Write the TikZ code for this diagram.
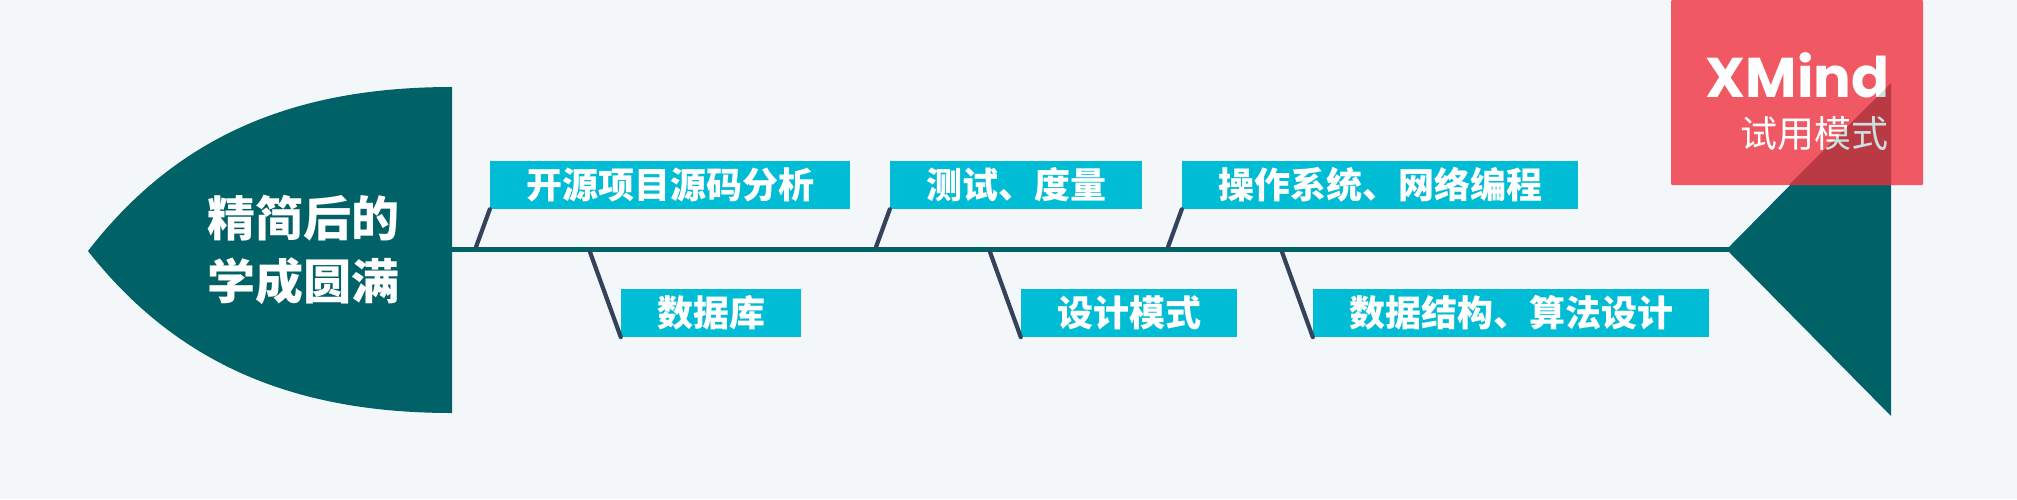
\documentclass[tikz,border=0pt]{standalone}
\usepackage{fontspec}
\setmainfont{Noto Sans CJK SC}
\newfontfamily\logofont{Poppins}
\usetikzlibrary{positioning}
\definecolor{pagebg}{HTML}{F3F7FA}
\definecolor{teal}{HTML}{006266}
\definecolor{cyanbox}{HTML}{00BCD4}
\definecolor{bonecol}{HTML}{34425C}
\definecolor{trialred}{HTML}{F05863}
\definecolor{trialdark}{HTML}{E8303A}

\begin{document}
\begin{tikzpicture}
  [
  x = 1pt, y = -1pt,
  % label
  label box/.style = {rectangle,
    fill = cyanbox, text = white,
    font = \fontsize{36}{36}\selectfont\bfseries,
    inner sep = 0pt,
    minimum height = 48pt},
  % bone
  bone/.style = {draw = bonecol, line width = 4.2pt, line cap = round},
  % spine
  spine/.style = {draw = teal, line width = 5pt},
  ]

  \useasboundingbox (0,0) rectangle (2017,499);
  \fill [pagebg] (0,0) rectangle (2017,499);

  % head and tail
  \fill [teal] (88,251) .. controls (180,132) and (300,87) .. (452,87)
    -- (452,413) .. controls (300,413) and (180,368) .. (88,251) -- cycle;
  \fill [teal] (1729,247) -- (1891,83) -- (1891,416) -- (1729,252) -- cycle;

  % nodes
  \coordinate (headend) at (452,249.5);
  \coordinate (tailtip) at (1729,249.5);
  \node [text = white, align = center, font = \fontsize{48}{63}\selectfont\bfseries]
    (title) at (303,250) {精简后的\\学成圆满};
  \node [label box, minimum width = 360pt] (src) at (670,185) {开源项目源码分析};
  \node [label box, minimum width = 252pt] (test) at (1016,185) {测试、度量};
  \node [label box, minimum width = 396pt] (os) at (1380,185) {操作系统、网络编程};
  \node [label box, minimum width = 180pt] (db) at (711,313) {数据库};
  \node [label box, minimum width = 216pt] (design) at (1129,313) {设计模式};
  \node [label box, minimum width = 396pt] (algo) at (1511,313) {数据结构、算法设计};

  \coordinate (srcb) at (476,247);
  \coordinate (testb) at (876,247);
  \coordinate (osb) at (1168,247);
  \coordinate (dbb) at (590,252);
  \coordinate (designb) at (990,252);
  \coordinate (algob) at (1282,252);

  % path
  \path [spine] (headend) -- (tailtip);
  \path [bone] (srcb) -- (src.south west);
  \path [bone] (testb) -- (test.south west);
  \path [bone] (osb) -- (os.south west);
  \path [bone] (dbb) -- (db.south west);
  \path [bone] (designb) -- (design.south west);
  \path [bone] (algob) -- (algo.south west);

  % trial mark
  \fill [trialred, rounded corners = 1pt] (1671,0) rectangle (1923,185);
  \fill [trialdark] (1891,83) -- (1891,185) -- (1789,185) -- cycle;
  \node [text = white, anchor = base east, font = \logofont\fontsize{56}{56}\selectfont\bfseries]
    (mark) at (1893,97) {XMind};
  \node [text = white, anchor = east, font = \fontsize{37}{37}\selectfont]
    (trial) at (1892,134) {试用模式};
  \fill [teal, fill opacity = 0.2] (1891,83) -- (1891,185) -- (1789,185) -- cycle;

\end{tikzpicture}
\end{document}
